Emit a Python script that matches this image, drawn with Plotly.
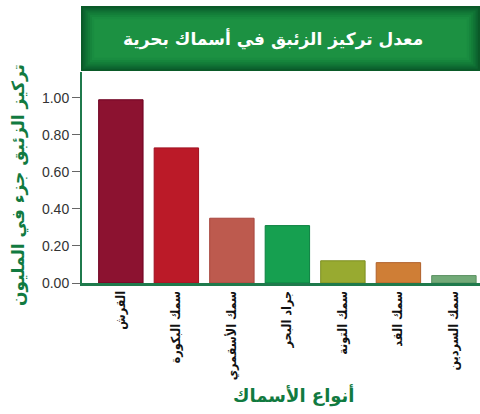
import plotly.graph_objects as go

# Average mercury concentration (ppm) by fish species
species = ["القرش", "سمك البكورة", "سمك الأسقمري", "جراد البحر",
           "سمك التونة", "سمك القد", "سمك السردين"]
mercury_ppm = [0.99, 0.73, 0.35, 0.31, 0.12, 0.11, 0.04]
bar_colors = ["#8c1230", "#bb1a28", "#bd5a4e", "#16a050",
              "#98aa30", "#cf7e36", "#72aa78"]
edge_colors = ["#6e0020", "#a01020", "#a8463e", "#0b8040",
               "#7c8e20", "#b0602a", "#5a9060"]
y_ticks = [0.0, 0.2, 0.4, 0.6, 0.8, 1.0]

title_text = "معدل تركيز الزئبق في أسماك بحرية"
y_title = "تركيز الزئبق جزء في المليون"
x_title = "أنواع الأسماك"

W, H = 480, 414
ML, MR, MT, MB = 82, 0, 72, 131
PW, PH = W - ML - MR, H - MT - MB

fig = go.Figure(go.Bar(
    x=species, y=mercury_ppm,
    marker=dict(color=bar_colors, line=dict(color=edge_colors, width=1)),
    width=0.8,
))

# Green banner above the plot area, shaded darker toward its edges
shapes = []
bx0, bx1, by0, by1 = 81, 480, 6, 71  # pixel box
steps = ["#0a5a28", "#0d6630", "#107234", "#137c38", "#16853c", "#198c40", "#1c9142"]
for i, c in enumerate(steps):
    inset = i * 2.2
    x0 = (bx0 + inset - ML) / PW
    x1 = (bx1 - inset - ML) / PW
    y0 = 1 + (MT - (by1 - inset)) / PH
    y1 = 1 + (MT - (by0 + inset)) / PH
    shapes.append(dict(type="rect", xref="paper", yref="paper",
                       x0=x0, x1=x1, y0=y0, y1=y1,
                       fillcolor=c, line=dict(width=0), layer="above"))


def px_x(px):
    return (px - ML) / PW


def px_y(py):
    return 1 - (py - MT) / PH


fig.update_layout(
    width=W, height=H,
    margin=dict(l=ML, r=MR, t=MT, b=MB),
    paper_bgcolor="white", plot_bgcolor="white",
    showlegend=False,
    shapes=shapes,
    bargap=0.2,
    xaxis=dict(
        range=[-0.7, 6.47],
        showline=True, linecolor="#1f7a4c", linewidth=3,
        ticks="", tickangle=-90,
        tickvals=species, ticktext=[f"<b>{s}</b>" for s in species],
        tickfont=dict(family="DejaVu Sans Condensed", size=12.5, color="#111"),
        showgrid=False,
    ),
    yaxis=dict(
        range=[0, 1.14],
        tickvals=y_ticks, tickformat=".2f",
        showline=True, linecolor="#1f7a4c", linewidth=2,
        ticks="outside", ticklen=8, tickcolor="#666", tickwidth=1,
        tickfont=dict(family="Liberation Sans, Arial", size=14, color="#333"),
        showgrid=False, zeroline=False,
    ),
    annotations=[
        dict(text=f"<b>{title_text}</b>", xref="paper", yref="paper",
             x=px_x(273), y=px_y(39), xanchor="center", yanchor="middle",
             showarrow=False, font=dict(family="DejaVu Sans", size=17, color="white")),
        dict(text=f"<b>{y_title}</b>", xref="paper", yref="paper",
             x=px_x(18), y=px_y(185), xanchor="center", yanchor="middle",
             textangle=-90,
             showarrow=False, font=dict(family="DejaVu Sans", size=17, color="#117a40")),
        dict(text=f"<b>{x_title}</b>", xref="paper", yref="paper",
             x=px_x(294), y=px_y(395), xanchor="center", yanchor="middle",
             showarrow=False, font=dict(family="DejaVu Sans", size=18, color="#117a40")),
    ],
)

fig.write_html("out.html")
